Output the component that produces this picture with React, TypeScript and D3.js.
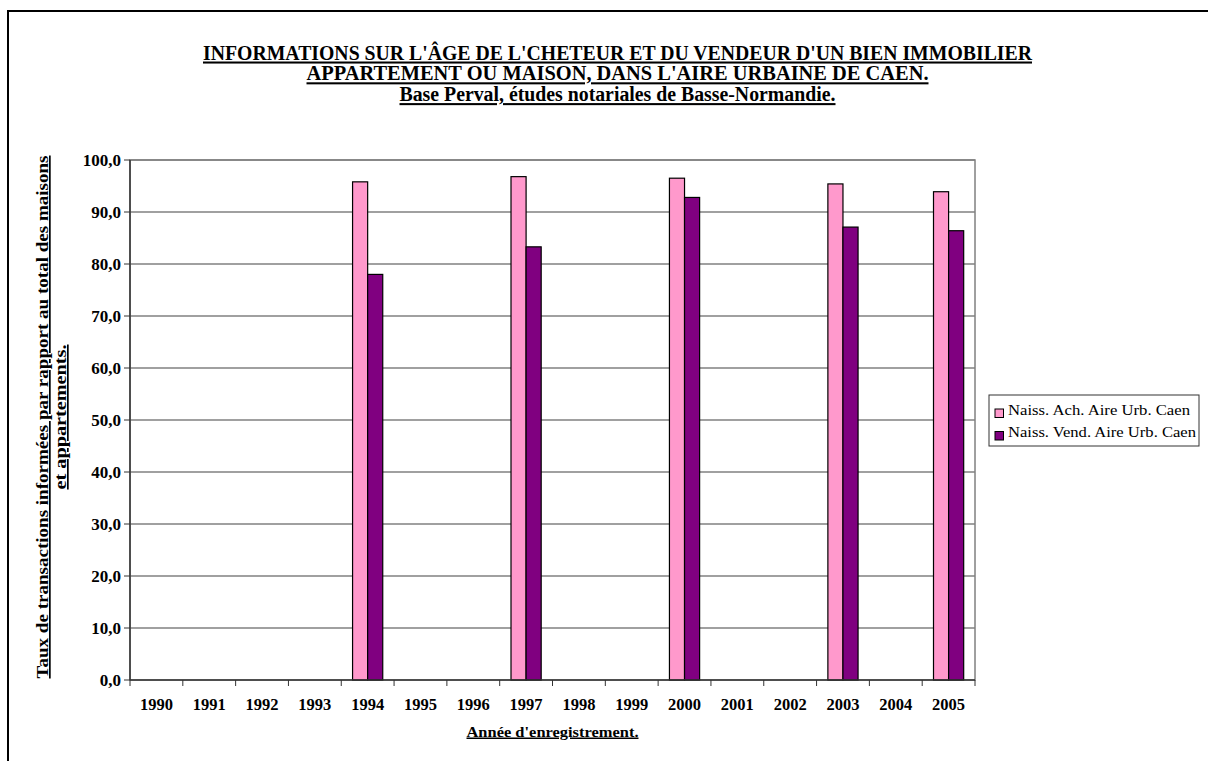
import React from "react";
import * as d3 from "d3";

const years = ["1990","1991","1992","1993","1994","1995","1996","1997","1998","1999","2000","2001","2002","2003","2004","2005"];
const achValues: (number | null)[] = [null,null,null,null,95.8,null,null,96.8,null,null,96.5,null,null,95.4,null,93.9];
const vendValues: (number | null)[] = [null,null,null,null,78.0,null,null,83.3,null,null,92.8,null,null,87.1,null,86.4];
const seriesNames = ["Naiss. Ach. Aire Urb. Caen", "Naiss. Vend. Aire Urb. Caen"];
const seriesColors = ["#FF99CC", "#800080"];
const yTicks = [0,10,20,30,40,50,60,70,80,90,100];
const titleLines = [
  "INFORMATIONS SUR L'ÂGE DE L'CHETEUR ET DU VENDEUR D'UN BIEN IMMOBILIER",
  "APPARTEMENT OU MAISON, DANS L'AIRE URBAINE DE CAEN. ",
  "Base Perval, études notariales de Basse-Normandie.",
];
const yTitleLines = ["Taux de transactions informées par rapport au total des maisons", "et appartements."];
const xTitle = "Année d'enregistrement.";

const FONT = "'Liberation Serif', 'Times New Roman', serif";

export default function App() {
  const left = 130, right = 975, top = 160, bottom = 680;
  const x = d3.scaleBand<string>().domain(years).range([left, right]).paddingInner(0).paddingOuter(0);
  const y = d3.scaleLinear().domain([0, 100]).range([bottom, top]);
  const bw = x.bandwidth();
  const barW = bw / 3.5;
  const series = [achValues, vendValues];

  return (
    <svg width={1208} height={761} style={{ position: "fixed", left: 0, top: 0, background: "#fff" }} fontFamily={FONT}>
      <rect x={0} y={0} width={1208} height={761} fill="#fff" />
      {/* outer frame */}
      <rect x={8} y={11} width={1300} height={900} fill="none" stroke="#000" strokeWidth={2} />

      {/* title */}
      {titleLines.map((t, i) => {
        const widths = [829, 622, 436];
        return (
          <text key={i} x={617.5} y={59.5 + i * 20.8} textAnchor="middle" fontSize={20.5} fontWeight="bold"
            textDecoration="underline" textLength={widths[i]} lengthAdjust="spacingAndGlyphs">{t}</text>
        );
      })}

      {/* plot area */}
      <rect x={left} y={top} width={right - left} height={bottom - top} fill="#fff" stroke="#808080" strokeWidth={1.5} />
      {yTicks.map((t) => (
        <g key={t}>
          {t > 0 && <line x1={left} x2={right} y1={y(t)} y2={y(t)} stroke="#808080" strokeWidth={1.5} />}
          <line x1={left - 6} x2={left} y1={y(t)} y2={y(t)} stroke="#333" strokeWidth={1} />
          <text x={121} y={y(t) + 5.5} textAnchor="end" fontSize={17} fontWeight="bold">{t.toFixed(1).replace(".", ",")}</text>
        </g>
      ))}

      {/* bars */}
      {series.map((vals, si) =>
        vals.map((v, i) => {
          if (v == null) return null;
          const cx = (x(years[i]) as number) + bw / 2;
          const bx = cx - barW + si * barW;
          return (
            <rect key={`${si}-${i}`} x={bx} y={y(v)} width={barW} height={y(0) - y(v)}
              fill={seriesColors[si]} stroke="#000" strokeWidth={1.2} />
          );
        })
      )}

      {/* axes */}
      <line x1={left} x2={left} y1={top} y2={bottom} stroke="#333" strokeWidth={1.5} />
      <line x1={left} x2={right} y1={bottom} y2={bottom} stroke="#333" strokeWidth={1.5} />
      {years.map((yr) => (
        <line key={"t" + yr} x1={x(yr) as number} x2={x(yr) as number} y1={bottom} y2={bottom + 6} stroke="#333" strokeWidth={1} />
      ))}
      <line x1={right} x2={right} y1={bottom} y2={bottom + 6} stroke="#333" strokeWidth={1} />
      {years.map((yr) => (
        <text key={"l" + yr} x={(x(yr) as number) + bw / 2} y={710} textAnchor="middle" fontSize={16.5} fontWeight="bold">{yr}</text>
      ))}

      {/* x title */}
      <text x={(left + right) / 2} y={736.5} textAnchor="middle" fontSize={15} fontWeight="bold"
        textDecoration="underline" textLength={172} lengthAdjust="spacingAndGlyphs">{xTitle}</text>

      {/* y title */}
      {yTitleLines.map((t, i) => {
        const widths = [523, 145];
        const cx = 48 + i * 18;
        const cy = 417;
        return (
          <text key={i} transform={`translate(${cx},${cy}) rotate(-90)`} textAnchor="middle" fontSize={17} fontWeight="bold"
            textDecoration="underline" textLength={widths[i]} lengthAdjust="spacingAndGlyphs">{t}</text>
        );
      })}

      {/* legend */}
      <rect x={989} y={395} width={210} height={51} fill="#fff" stroke="#333" strokeWidth={1} />
      {seriesNames.map((n, i) => (
        <g key={n}>
          <rect x={995} y={409 + i * 22.5} width={8.5} height={8.5} fill={seriesColors[i]} stroke="#000" strokeWidth={1} />
          <text x={1008} y={414.5 + i * 22.5} fontSize={14} textLength={i === 0 ? 182 : 188} lengthAdjust="spacingAndGlyphs">{n}</text>
        </g>
      ))}
    </svg>
  );
}
